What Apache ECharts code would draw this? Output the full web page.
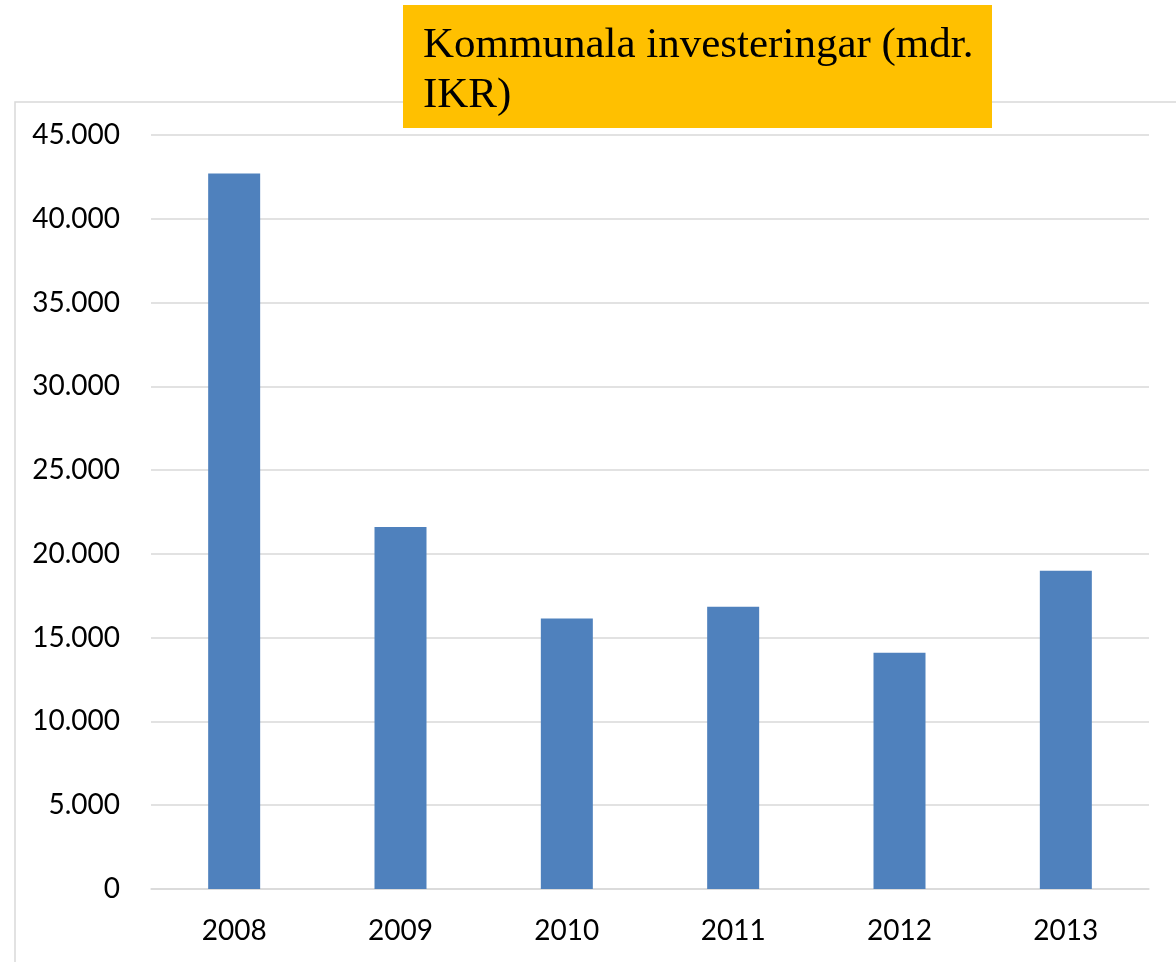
<!DOCTYPE html>
<html>
<head>
<meta charset="utf-8">
<script src="https://cdn.jsdelivr.net/npm/echarts@6/dist/echarts.min.js"></script>
<style>
html,body{margin:0;padding:0;background:#fff;}
#chart{width:1176px;height:962px;}
</style>
</head>
<body>
<div id="chart"></div>
<script>
var categories = ['2008', '2009', '2010', '2011', '2012', '2013'];
var investments = [42700, 21600, 16150, 16850, 14100, 19000];
var titleText = 'Kommunala investeringar (mdr.\nIKR)';

var chart = echarts.init(document.getElementById('chart'));
chart.setOption({
  animation: false,
  backgroundColor: '#ffffff',
  grid: { left: 151, right: 27, top: 135, bottom: 73, containLabel: false },
  xAxis: {
    type: 'category',
    data: categories,
    axisLine: { show: true, lineStyle: { color: '#d9d9d9', width: 1.5 } },
    axisTick: { show: false },
    axisLabel: { color: '#000', fontFamily: 'Lato', fontSize: 28, margin: 28 }
  },
  yAxis: {
    type: 'value',
    min: 0,
    max: 45000,
    interval: 5000,
    axisLine: { show: false },
    axisTick: { show: false },
    splitLine: { lineStyle: { color: '#d9d9d9', width: 1.5 } },
    axisLabel: {
      color: '#000', fontFamily: 'Lato', fontSize: 28, margin: 31,
      formatter: function (v) { return String(v).replace(/\B(?=(\d{3})+(?!\d))/g, '.'); }
    }
  },
  series: [{
    type: 'bar',
    data: investments,
    barWidth: 52,
    itemStyle: { color: '#4f81bd' }
  }],
  graphic: [
    {
      type: 'rect', z: 0, silent: true,
      shape: { x: 15, y: 102, width: 1300, height: 1000 },
      style: { fill: 'none', stroke: '#d9d9d9', lineWidth: 1.5 }
    },
    {
      type: 'rect', z: 10, silent: true,
      shape: { x: 403, y: 5, width: 589, height: 123 },
      style: { fill: '#ffc000' }
    },
    {
      type: 'text', z: 11, silent: true,
      x: 423, y: 21,
      style: {
        text: titleText,
        fill: '#000',
        font: '43px "Liberation Serif", "Times New Roman", serif',
        lineHeight: 50,
        align: 'left',
        verticalAlign: 'top'
      }
    }
  ]
});
</script>
</body>
</html>
